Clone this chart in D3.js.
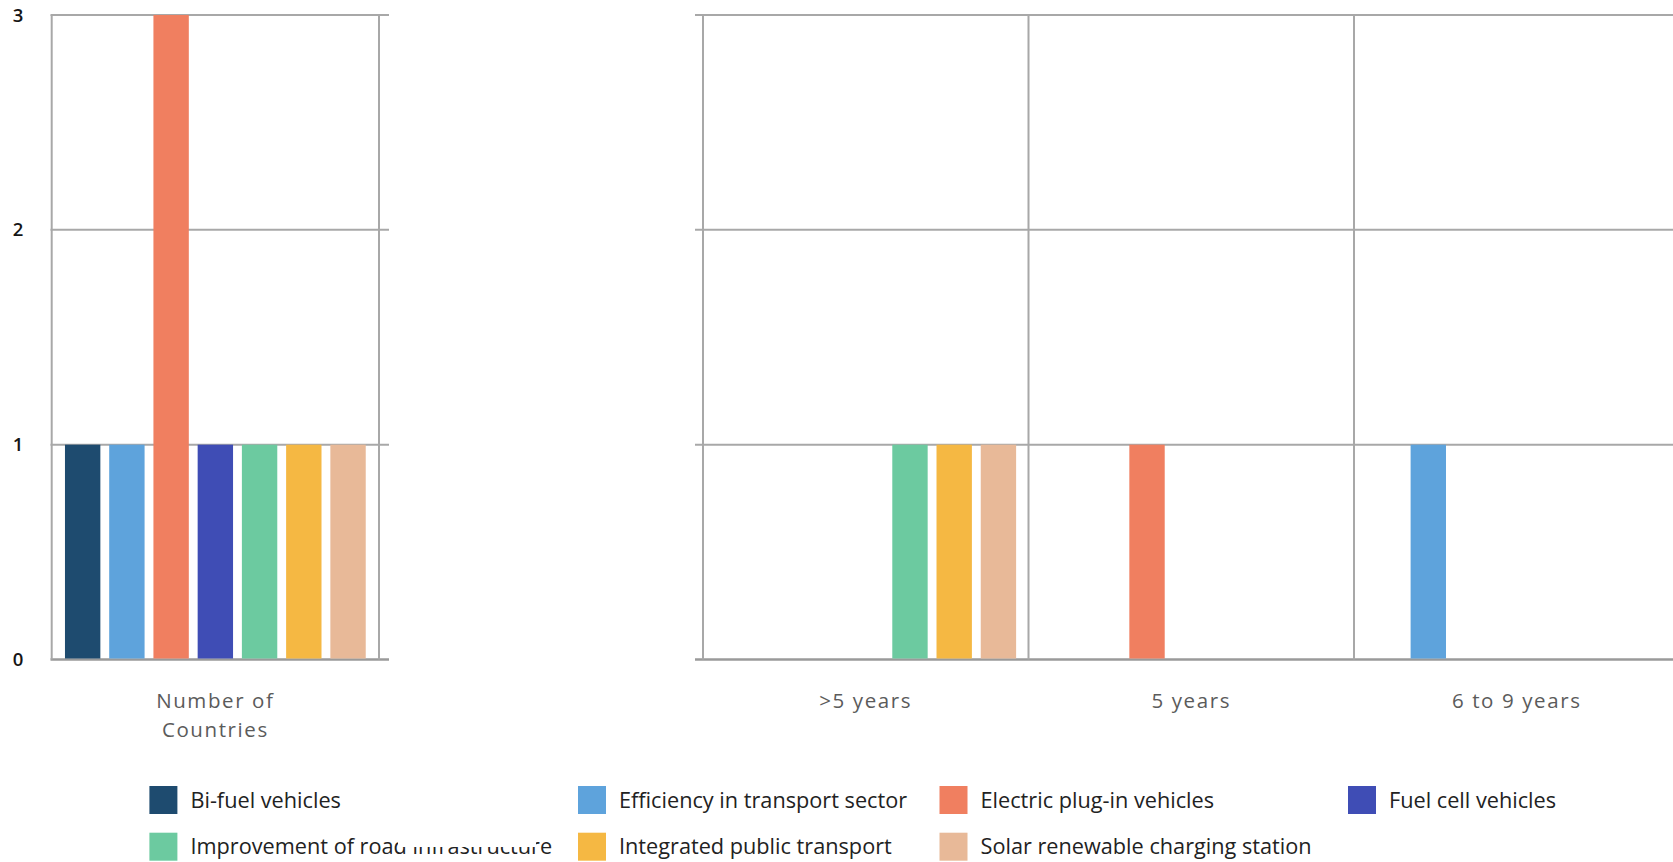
<!DOCTYPE html>
<html>
<head>
<meta charset="utf-8">
<script src="https://cdn.jsdelivr.net/npm/d3@7"></script>
<style>
  html, body { margin: 0; padding: 0; background: #fff; overflow: hidden; }
  svg { display: block; }
</style>
</head>
<body>
<svg id="chart" width="1673" height="862"></svg>
<script>
// ---------------- data ----------------
const seriesNames = [
  "Bi-fuel vehicles",
  "Efficiency in transport sector",
  "Electric plug-in vehicles",
  "Fuel cell vehicles",
  "Improvement of road infrastructure",
  "Integrated public transport",
  "Solar renewable charging station"
];
const seriesColors = ["#1e4b6f", "#5ea3dc", "#f07f60", "#3f4db5", "#6ccaa0", "#f5b843", "#e8b998"];

const leftCategories = ["Number of Countries"];
const leftValues = [1, 1, 3, 1, 1, 1, 1];           // one value per series

const rightCategories = [">5 years", "5 years", "6 to 9 years"];
const rightBiFuel      = [0, 0, 0];
const rightEfficiency  = [0, 0, 1];
const rightElectric    = [0, 1, 0];
const rightFuelCell    = [0, 0, 0];
const rightRoad        = [1, 0, 0];
const rightIntegrated  = [1, 0, 0];
const rightSolar       = [1, 0, 0];
const rightValues = [rightBiFuel, rightEfficiency, rightElectric, rightFuelCell, rightRoad, rightIntegrated, rightSolar];

const yTickValues = [0, 1, 2, 3];

// ---------------- layout ----------------
const svg = d3.select("#chart");
const FONT = "'Open Sans', 'Noto Sans', sans-serif";
const gridColor = "#a8a8a8";

const y = d3.scaleLinear().domain([0, 3]).range([659.5, 15]);

const leftX = d3.scaleBand().domain(leftCategories).range([51.7, 379]);
const rightX = d3.scaleBand().domain(rightCategories).range([703, 1679.5]);
const innerLeft = d3.scaleBand().domain(d3.range(seriesNames.length))
  .range([0, leftX.bandwidth()]).paddingInner(0.2).paddingOuter(0.3);
const innerRight = d3.scaleBand().domain(d3.range(seriesNames.length))
  .range([0, rightX.bandwidth()]).paddingInner(0.2).paddingOuter(0.28);

// ---- gridlines ----
function drawGrid(xScale, x1, x2) {
  const g = svg.append("g");
  g.selectAll("line.h").data(yTickValues).join("line")
    .attr("x1", x1).attr("x2", x2)
    .attr("y1", d => y(d)).attr("y2", d => y(d))
    .attr("stroke", d => d === 0 ? "#9a9a9a" : gridColor)
    .attr("stroke-width", d => d === 0 ? 2.6 : 2);
  const edges = xScale.domain().map(c => xScale(c)).concat([xScale.range()[1]]);
  g.selectAll("line.v").data(edges).join("line")
    .attr("x1", d => d).attr("x2", d => d)
    .attr("y1", y(3)).attr("y2", y(0))
    .attr("stroke", gridColor).attr("stroke-width", 2);
}
drawGrid(leftX, 50.5, 389);
drawGrid(rightX, 695, 1690);

// ---- y tick labels ----
svg.append("g").selectAll("text").data(yTickValues).join("text")
  .attr("x", 18).attr("y", d => y(d))
  .attr("dy", "0.36em")
  .attr("text-anchor", "middle")
  .attr("font-family", FONT).attr("font-size", 18.5).attr("font-weight", 600)
  .attr("fill", "#151515")
  .text(d => d);

// ---- bars ----
const leftData = leftValues.map((v, i) => ({ cat: leftCategories[0], s: i, v }));
svg.append("g").selectAll("rect").data(leftData.filter(d => d.v > 0)).join("rect")
  .attr("x", d => leftX(d.cat) + innerLeft(d.s))
  .attr("width", innerLeft.bandwidth())
  .attr("y", d => y(d.v))
  .attr("height", d => y(0) - y(d.v) - 1)
  .attr("fill", d => seriesColors[d.s]);

const rightData = [];
rightValues.forEach((arr, s) => arr.forEach((v, c) => rightData.push({ cat: rightCategories[c], s, v })));
svg.append("g").selectAll("rect").data(rightData.filter(d => d.v > 0)).join("rect")
  .attr("x", d => rightX(d.cat) + innerRight(d.s))
  .attr("width", innerRight.bandwidth())
  .attr("y", d => y(d.v))
  .attr("height", d => y(0) - y(d.v) - 1)
  .attr("fill", d => seriesColors[d.s]);

// ---- category labels ----
function catLabels(xScale) {
  const t = svg.append("g").selectAll("text").data(xScale.domain()).join("text")
    .attr("x", d => xScale(d) + xScale.bandwidth() / 2)
    .attr("y", 708)
    .attr("text-anchor", "middle")
    .attr("font-family", FONT).attr("font-size", 20.5)
    .attr("letter-spacing", 1.6)
    .attr("fill", "#5b5b5b");
  t.each(function (d) {
    const el = d3.select(this);
    const words = d.split(" ");
    const lines = [];
    let cur = [];
    words.forEach(w => {
      const test = cur.concat([w]).join(" ");
      if (test.length > 12 && cur.length) { lines.push(cur.join(" ")); cur = [w]; }
      else cur.push(w);
    });
    lines.push(cur.join(" "));
    lines.forEach((ln, i) => {
      el.append("tspan")
        .attr("x", xScale(d) + xScale.bandwidth() / 2)
        .attr("dy", i === 0 ? 0 : 29)
        .text(ln);
    });
  });
}
catLabels(leftX);
catLabels(rightX);

// ---- legend ----
const legendCols = [149.4, 578, 939.5, 1348];
const legendRows = [786, 832.7];
const legend = svg.append("g");
const items = legend.selectAll("g").data(seriesNames).join("g")
  .attr("transform", (d, i) => `translate(${legendCols[i % 4]},${legendRows[Math.floor(i / 4)]})`);
items.append("rect")
  .attr("width", 28).attr("height", 28)
  .attr("fill", (d, i) => seriesColors[i]);
items.append("text")
  .attr("x", 41).attr("y", 21.5)
  .attr("font-family", FONT).attr("font-size", 21.7)
  .attr("fill", "#222")
  .text(d => d);

// the reference shows part of one legend label masked by a white box
legend.append("rect")
  .attr("x", 398).attr("y", 826).attr("width", 138).attr("height", 21)
  .attr("fill", "#fff");
</script>
</body>
</html>
